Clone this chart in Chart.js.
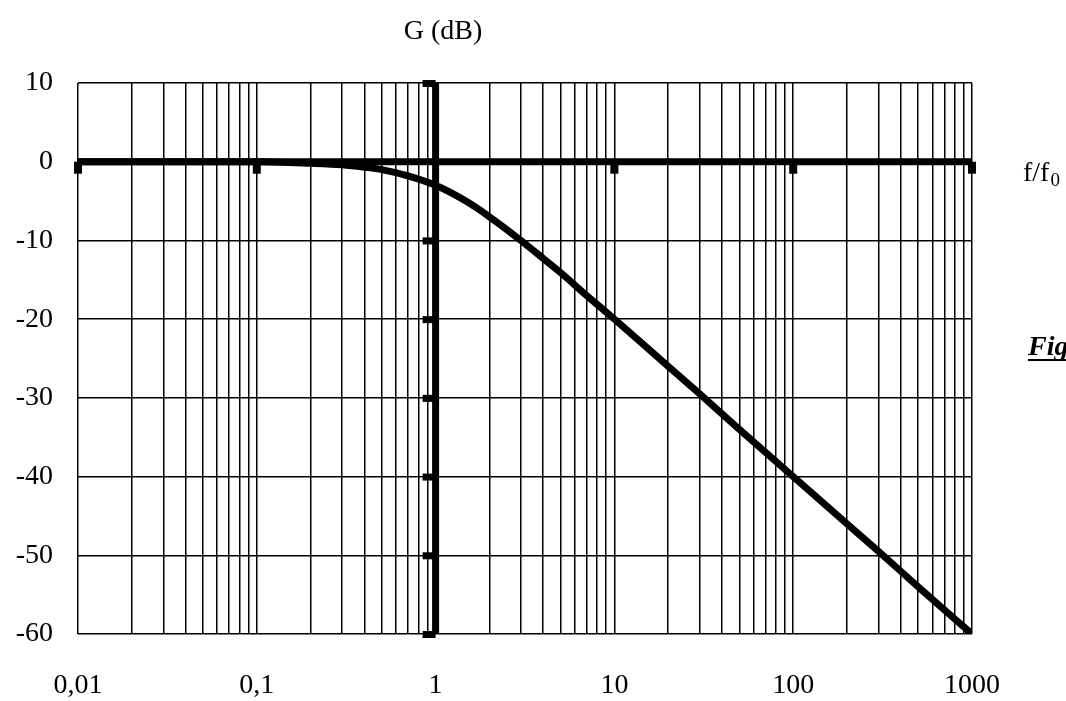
<!DOCTYPE html>
<html>
<head>
<meta charset="utf-8">
<script src="https://cdn.jsdelivr.net/npm/chart.js@4"></script>
<style>
  html, body { margin: 0; padding: 0; background: #fff; }
  #wrap { width: 1066px; height: 701px; }
</style>
</head>
<body>
<div id="wrap"><canvas id="bode"></canvas></div>
<script>
// Bode gain plot, G (dB) vs f/f0 (log scale)
const freqs = [0.01, 0.1, 0.2, 0.3, 0.4, 0.5, 0.7, 1, 1.5, 2, 3, 4, 5, 7, 10, 20, 30, 50, 100, 200, 300, 500, 1000];
const gainDb = [0, 0, -0.2, -0.4, -0.7, -1, -1.8, -3, -5.1, -7, -10, -12.3, -14.1, -17, -20, -26, -29.5, -34, -40, -46, -49.5, -54, -60];

const decades = [0.01, 0.1, 1, 10, 100, 1000];
const decadeLabels = ["0,01", "0,1", "1", "10", "100", "1000"];
const minorSteps = [1, 2, 3, 4, 5, 6, 7, 8, 9];
const yTicks = [10, 0, -10, -20, -30, -40, -50, -60];

// all vertical grid positions (1..9 in each decade)
let gridX = [];
decades.slice(0, -1).forEach(d => minorSteps.forEach(m => gridX.push(+(d * m).toPrecision(3))));
gridX.push(1000);

const serif = "'Liberation Serif', 'Times New Roman', serif";

// heavy axes, their square tick marks and the loose texts
const decorPlugin = {
  id: "decor",
  afterDatasetsDraw(chart) {
    const ctx = chart.ctx;
    const xs = chart.scales.x, ys = chart.scales.y;
    const x1 = xs.getPixelForValue(1), y0 = ys.getPixelForValue(0);
    ctx.save();
    ctx.fillStyle = "#000";
    decades.forEach(d => {
      if (d === 1) return;
      const px = xs.getPixelForValue(d);
      ctx.fillRect(px - 4, y0, 8, 12);
    });
    yTicks.forEach(v => {
      if (v === 0) return;
      const py = ys.getPixelForValue(v);
      ctx.fillRect(x1 - 13, py - 3, 13, 7);
    });
    ctx.font = "28px " + serif;
    ctx.textBaseline = "alphabetic";
    ctx.textAlign = "center";
    ctx.fillText("G (dB)", 443, 39);
    ctx.textAlign = "left";
    ctx.fillText("f/f", 1023, 181);
    const w = ctx.measureText("f/f").width;
    ctx.font = "19px " + serif;
    ctx.fillText("0", 1023 + w + 1, 186);
    ctx.font = "bold italic 28px " + serif;
    ctx.fillText("Fig", 1028, 355);
    ctx.fillRect(1028, 359, 40, 2);
    ctx.restore();
  }
};

new Chart(document.getElementById("bode"), {
  type: "scatter",
  data: {
    datasets: [
      {
        label: "G",
        data: freqs.map((f, i) => ({ x: f, y: gainDb[i] })),
        showLine: true,
        borderColor: "#000",
        borderWidth: 7,
        pointRadius: 0,
        cubicInterpolationMode: "monotone"
      },
      {
        label: "axis0",
        data: [{ x: 0.01, y: 0 }, { x: 1000, y: 0 }],
        showLine: true,
        borderColor: "#000",
        borderWidth: 7,
        pointRadius: 0
      },
      {
        label: "axis1",
        data: [{ x: 1, y: -60 }, { x: 1, y: 10 }],
        showLine: true,
        borderColor: "#000",
        borderWidth: 7,
        pointRadius: 0
      }
    ]
  },
  options: {
    responsive: true,
    maintainAspectRatio: false,
    animation: false,
    layout: { padding: { top: 83, right: 94, left: 0, bottom: 0 } },
    plugins: { legend: { display: false }, tooltip: { enabled: false } },
    scales: {
      x: {
        type: "logarithmic",
        min: 0.01,
        max: 1000,
        afterBuildTicks: s => { s.ticks = gridX.map(v => ({ value: v })); },
        afterFit: s => { s.height = 67; },
        grid: { color: "#000", lineWidth: 1.5, drawTicks: false },
        border: { display: false },
        ticks: {
          autoSkip: false,
          maxRotation: 0,
          padding: 35,
          color: "#000",
          font: { family: serif, size: 28 },
          callback: v => {
            const i = decades.findIndex(d => Math.abs(d - v) < d * 1e-6);
            return i >= 0 ? decadeLabels[i] : "";
          }
        }
      },
      y: {
        min: -60,
        max: 10,
        afterBuildTicks: s => { s.ticks = yTicks.map(v => ({ value: v })); },
        afterFit: s => { s.width = 78; },
        grid: { color: "#000", lineWidth: 1.5, drawTicks: false },
        border: { display: false },
        ticks: {
          padding: 25,
          color: "#000",
          font: { family: serif, size: 28 }
        }
      }
    }
  },
  plugins: [decorPlugin]
});
</script>
</body>
</html>
